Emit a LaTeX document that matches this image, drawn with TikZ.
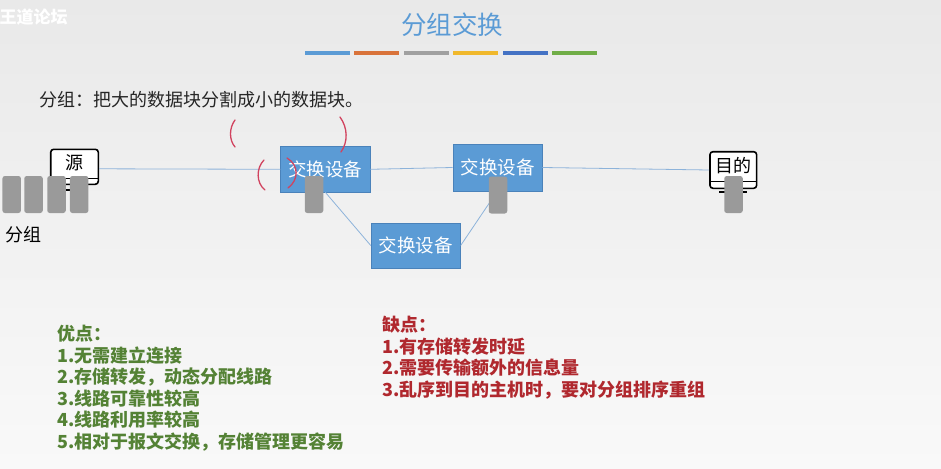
\documentclass[tikz,border=0pt]{standalone}
\usepackage{fontspec}
\setmainfont{Noto Sans CJK SC}
\usetikzlibrary{positioning,calc}
\definecolor{bgtop}{HTML}{E9E9E9}
\definecolor{bgbot}{HTML}{F9F9F9}
\definecolor{sky}{HTML}{5B9BD5}
\definecolor{skyedge}{HTML}{4A82BA}
\definecolor{wire}{HTML}{8DB3DA}
\definecolor{pktgray}{HTML}{9A9A9A}
\definecolor{leaf}{HTML}{548235}
\definecolor{wine}{HTML}{B0282E}
\definecolor{ink}{HTML}{D1435F}
\definecolor{barA}{HTML}{5B9BD5}
\definecolor{barB}{HTML}{D9733A}
\definecolor{barC}{HTML}{A0A0A0}
\definecolor{barD}{HTML}{F0B82C}
\definecolor{barE}{HTML}{4472C4}
\definecolor{barF}{HTML}{70AD47}

\begin{document}
\begin{tikzpicture}[x=1pt, y=-1pt, font=\fontsize{18}{21.6}\selectfont]
  \tikzset{
    swbox/.style ={fill=sky, draw=skyedge, minimum width=89.5pt, minimum height=45.5pt, inner sep=0pt, text=white, font=\fontsize{18.5}{22}\selectfont},
    screen/.style={draw=black, line width=1.6pt, fill=white, rounded corners=3pt, inner sep=0pt},
    pkt/.style   ={fill=pktgray, rounded corners=2.5pt, minimum width=18.5pt, minimum height=37pt, inner sep=0pt},
    link/.style  ={draw=wire, line width=0.8pt},
    pen/.style   ={draw=ink, line width=1.3pt, line cap=round},
  }
  \shade[top color=bgtop, bottom color=bgbot] (0,0) rectangle (941,468);
  \useasboundingbox (0,0) rectangle (941,468);
  \node[anchor=west, white, font=\fontsize{17}{20}\selectfont\bfseries] (mark) at (-4,17) {王道论坛};

  \node[sky, font=\fontsize{25.5}{30}\selectfont] (title) at (452,25) {分组交换};
  \foreach \c [count=\i from 0] in {barA,barB,barC,barD,barE,barF}
    \fill[\c] (305+49.4*\i,51.5) rectangle +(45,4);
  \node[anchor=west, inner sep=0pt, text=black!85] (intro) at (39,100) {分组：把大的数据块分割成小的数据块。};

  % hosts
  \node[screen, minimum width=47.6pt, minimum height=35pt] (src) at (74.5,166.8) {};
  \node at ([yshift=4pt]src.center) {源};
  \draw[line width=1.2pt] ([yshift=7pt]src.south west) -- ([yshift=7pt]src.south east);
  \draw[line width=1.6pt] ([xshift=-12pt,yshift=-5pt]src.south) -- ([xshift=12pt,yshift=-5pt]src.south);

  \node[screen, minimum width=46.7pt, minimum height=36.6pt] (dst) at (733.3,170) {};
  \node at ([yshift=4.5pt]dst.center) {目的};
  \draw[line width=1.2pt] ([yshift=8pt]dst.south west) -- ([yshift=8pt]dst.south east);
  \draw[line width=1.6pt] ([xshift=-14pt,yshift=-3pt]dst.south) -- ([xshift=14pt,yshift=-3pt]dst.south);

  % switches
  \node[swbox] (sw1) at (325.3,169.3) {交换设备};
  \node[swbox, minimum height=46.4pt] (sw2) at (497.5,167.5) {交换设备};
  \node[swbox] (sw3) at (415.7,245.5) {交换设备};

  \draw[link] ([yshift=-2pt]src.east) -- (sw1.west);
  \draw[link] (sw1.east) -- (sw2.west);
  \draw[link] (sw2.east) -- (dst.west);
  \draw[link] (sw1.south) -- (sw3.west);
  \draw[link] (sw3.east) -- (sw2.south);

  % packets
  \foreach \x [count=\i] in {11.7,33.5,56.5,79.2}
    \node[pkt] (p\i) at (\x,194.5) {};
  \node[anchor=west, inner sep=0pt] (plabel) at (5,235) {分组};
  \node[pkt] (q1) at (314,194.5) {};
  \node[pkt] (q2) at (498,195) {};
  \node[pkt] (q3) at (733.5,194.5) {};

  % hand marks
  \draw[pen] (235,120) .. controls (229,128) and (229,140) .. (235,147);
  \draw[pen] (340,117) .. controls (348,128) and (348,142) .. (341,152);
  \draw[pen] (264,160) .. controls (256,168) and (256,183) .. (265,190);
  \draw[pen] (287,158) .. controls (299,165) and (299,180) .. (288,188);

  % lists
  \node[anchor=north west, align=left, inner sep=0pt, text=leaf, font=\fontsize{18}{21.6}\selectfont\bfseries] (pros) at (57,325) {
    优点：\\
    1.无需建立连接\\
    2.存储转发，动态分配线路\\
    3.线路可靠性较高\\
    4.线路利用率较高\\
    5.相对于报文交换，存储管理更容易
  };
  \node[anchor=north west, align=left, inner sep=0pt, text=wine, font=\fontsize{18}{21.6}\selectfont\bfseries] (cons) at (382,316) {
    缺点：\\
    1.有存储转发时延\\
    2.需要传输额外的信息量\\
    3.乱序到目的主机时，要对分组排序重组
  };
\end{tikzpicture}
\end{document}
